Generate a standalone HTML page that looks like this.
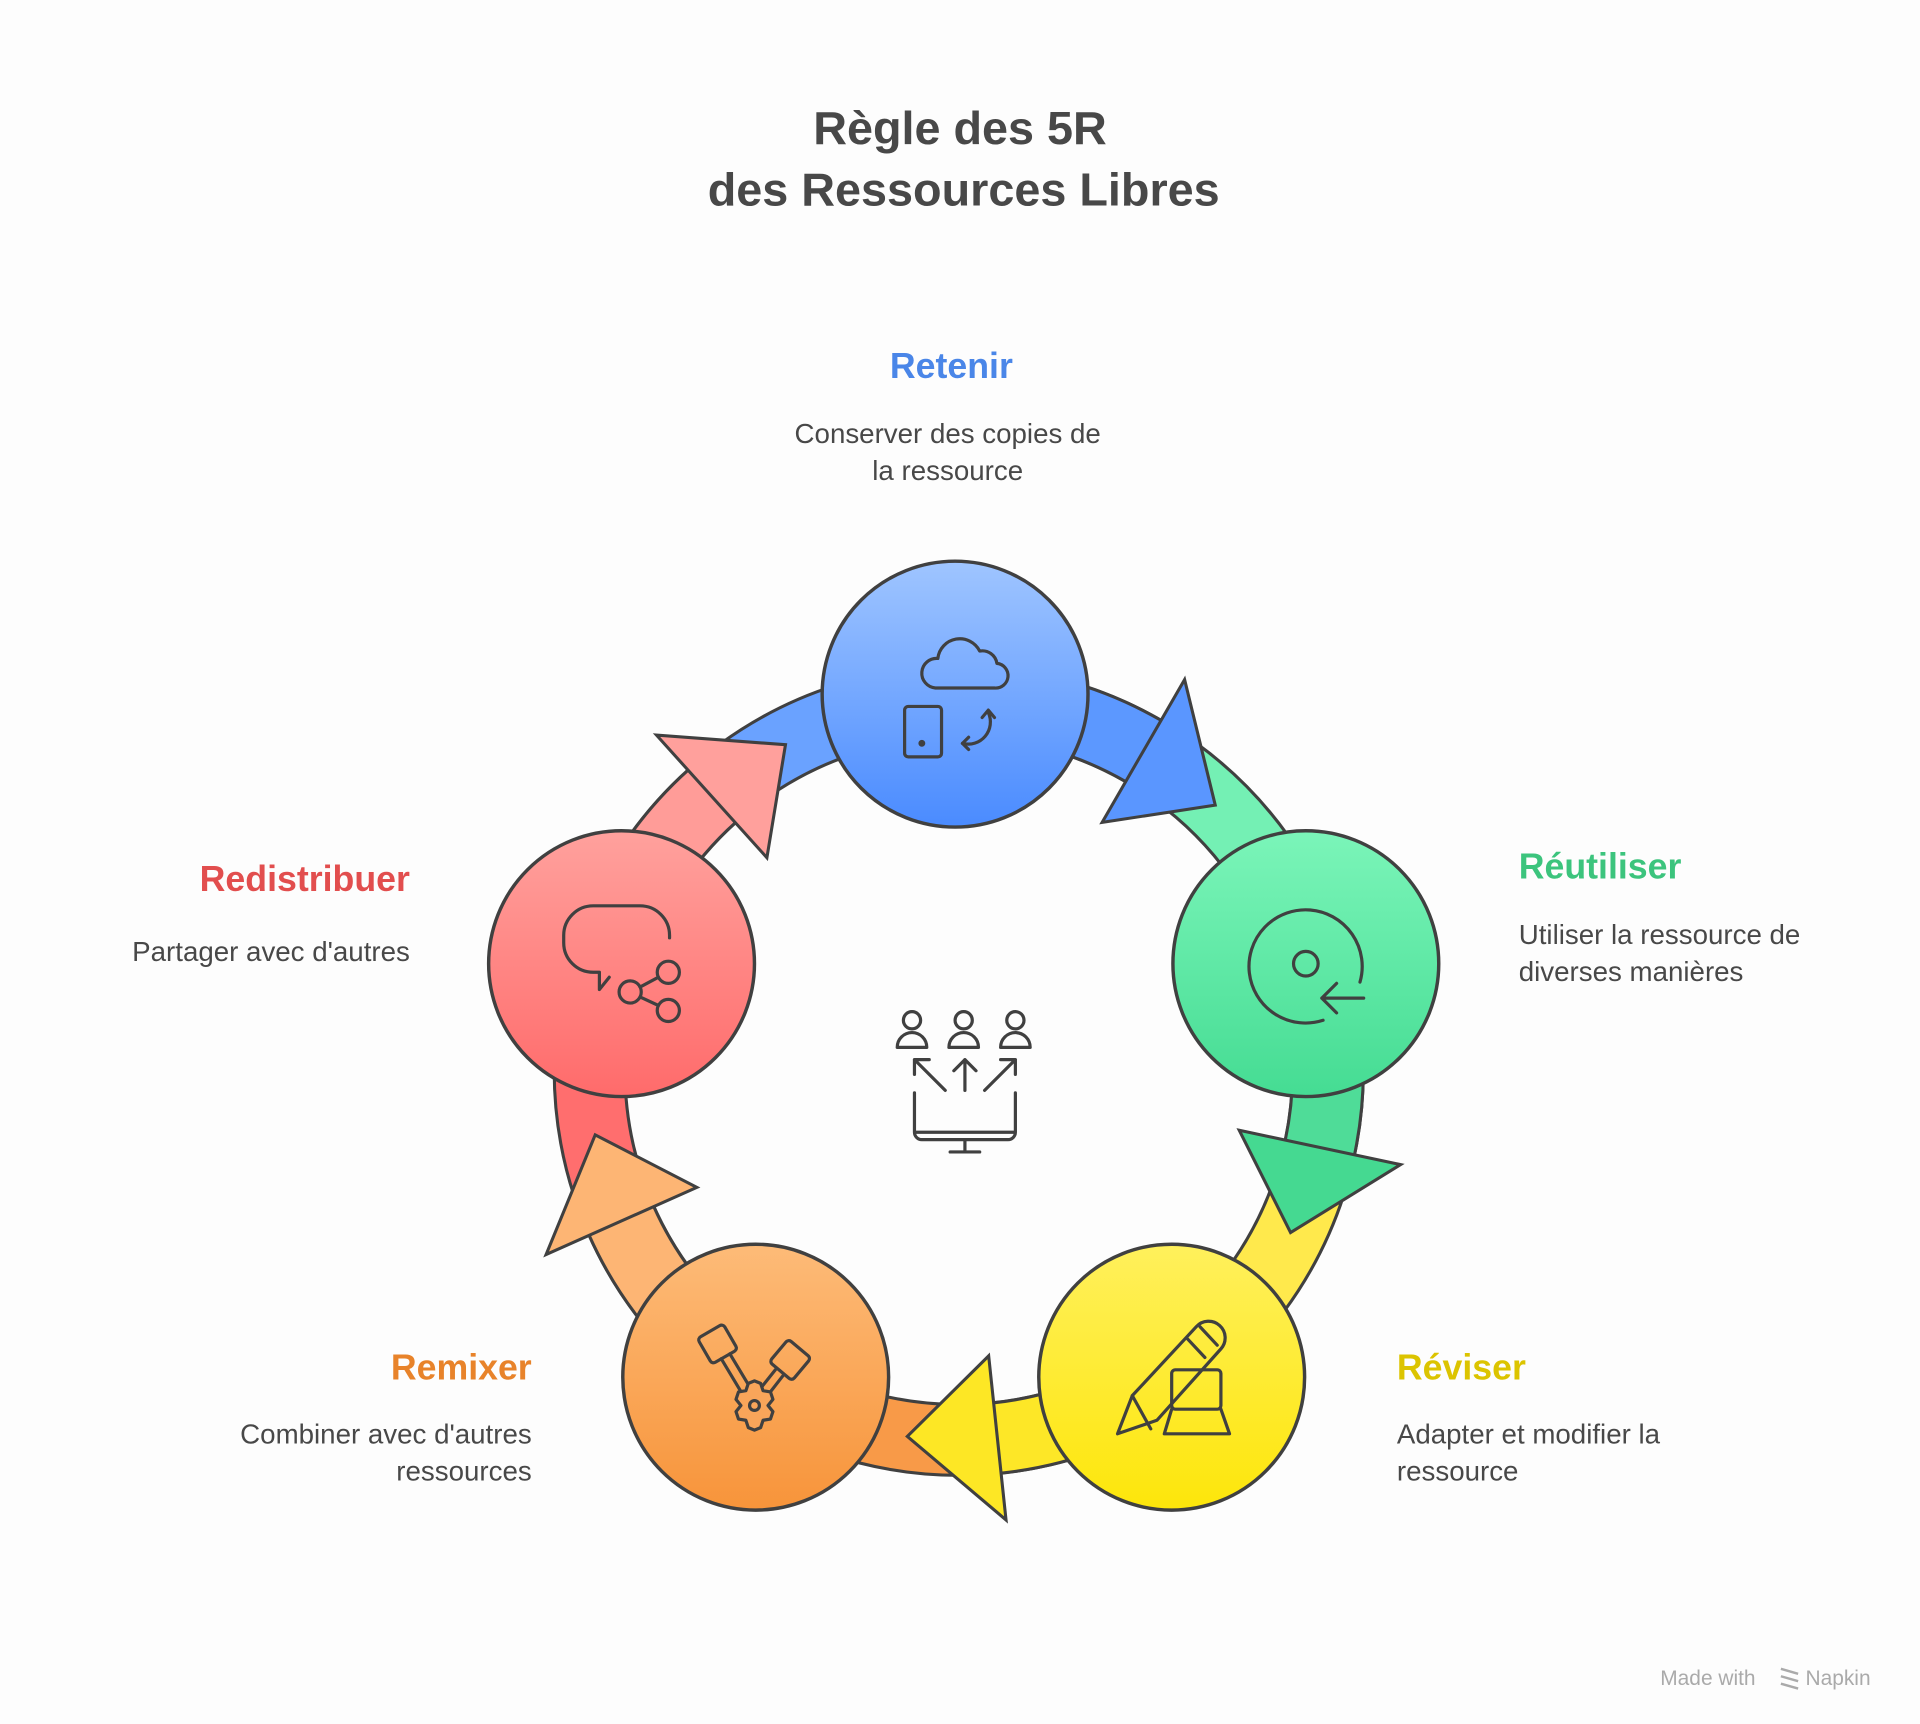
<!DOCTYPE html>
<html><head><meta charset="utf-8"><style>
html,body{margin:0;padding:0;background:#fdfdfd;}
svg{display:block;}
text{font-family:"Liberation Sans",sans-serif;}
</style></head><body>
<svg width="1920" height="1724" viewBox="0 0 1560 1400.8" xmlns="http://www.w3.org/2000/svg">
<defs>
<linearGradient id="gb" x1="0" y1="0" x2="0" y2="1"><stop offset="0" stop-color="#9fc5ff"/><stop offset="1" stop-color="#4a8bff"/></linearGradient>
<linearGradient id="gg" x1="0" y1="0" x2="0" y2="1"><stop offset="0" stop-color="#7bf5b9"/><stop offset="1" stop-color="#45dc93"/></linearGradient>
<linearGradient id="gy" x1="0" y1="0" x2="0" y2="1"><stop offset="0" stop-color="#fff05c"/><stop offset="1" stop-color="#fde60a"/></linearGradient>
<linearGradient id="go" x1="0" y1="0" x2="0" y2="1"><stop offset="0" stop-color="#fdbb78"/><stop offset="1" stop-color="#f7943a"/></linearGradient>
<linearGradient id="gr" x1="0" y1="0" x2="0" y2="1"><stop offset="0" stop-color="#ffa19d"/><stop offset="1" stop-color="#ff6b6b"/></linearGradient>
</defs>
<rect width="1560" height="1401" fill="#fdfdfd"/>

<text x="780" y="117" text-anchor="middle" font-size="38" font-weight="bold" fill="#484848">Règle des 5R</text>
<text x="783" y="167" text-anchor="middle" font-size="38" font-weight="bold" fill="#484848">des Ressources Libres</text>

<g transform="translate(-3,-3)">
<g fill="none" stroke-linecap="butt">
<path d="M782,573 A300,300 0 0 1 1067.3,780.3" stroke="#404040" stroke-width="60"/>
<path d="M782,573 A300,300 0 0 1 1067.3,780.3" stroke="#74f0b4" stroke-width="55"/>
<path d="M1067.3,780.3 A300,300 0 0 1 958.3,1115.7" stroke="#404040" stroke-width="60"/>
<path d="M1067.3,780.3 A300,300 0 0 1 958.3,1115.7" stroke="#ffe94c" stroke-width="55"/>
<path d="M958.3,1115.7 A300,300 0 0 1 605.7,1115.7" stroke="#404040" stroke-width="60"/>
<path d="M958.3,1115.7 A300,300 0 0 1 605.7,1115.7" stroke="#f89a48" stroke-width="55"/>
<path d="M605.7,1115.7 A300,300 0 0 1 496.7,780.3" stroke="#404040" stroke-width="60"/>
<path d="M605.7,1115.7 A300,300 0 0 1 496.7,780.3" stroke="#ff6e6e" stroke-width="55"/>
<path d="M496.7,780.3 A300,300 0 0 1 782,573" stroke="#404040" stroke-width="60"/>
<path d="M496.7,780.3 A300,300 0 0 1 782,573" stroke="#6aa2ff" stroke-width="55"/>
<path d="M782,573 A300,300 0 0 1 932,613.2" stroke="#404040" stroke-width="60"/>
<path d="M782,573 A300,300 0 0 1 932,613.2" stroke="#5c98ff" stroke-width="55"/>
<path d="M1067.3,780.3 A300,300 0 0 1 1075.4,935.4" stroke="#404040" stroke-width="60"/>
<path d="M1067.3,780.3 A300,300 0 0 1 1075.4,935.4" stroke="#4fdc98" stroke-width="55"/>
<path d="M958.3,1115.7 A300,300 0 0 1 813.4,1171.4" stroke="#404040" stroke-width="60"/>
<path d="M958.3,1115.7 A300,300 0 0 1 813.4,1171.4" stroke="#fde727" stroke-width="55"/>
<path d="M605.7,1115.7 A300,300 0 0 1 507.9,995" stroke="#404040" stroke-width="60"/>
<path d="M605.7,1115.7 A300,300 0 0 1 507.9,995" stroke="#fdb574" stroke-width="55"/>
<path d="M496.7,780.3 A300,300 0 0 1 581.3,650.1" stroke="#404040" stroke-width="60"/>
<path d="M496.7,780.3 A300,300 0 0 1 581.3,650.1" stroke="#ff9c98" stroke-width="55"/>
</g>
<g stroke="#404040" stroke-width="2.5" stroke-linejoin="miter">
<polygon points="898.5,671.2 965.5,555.2 990.4,657.2" fill="#5a96ff"/>
<polygon points="1009.9,921.4 1141,949.3 1051.6,1004.5" fill="#45d991"/>
<polygon points="806.3,1104.7 820.4,1238 740.2,1170.1" fill="#fde725"/>
<polygon points="569.2,967.8 446.7,1022.3 486.6,925.1" fill="#fdb574"/>
<polygon points="626.1,699.9 536.4,600.3 641.2,608.1" fill="#ffa09c"/>
</g>
</g>

<g stroke="#404040" stroke-width="2.8">
<circle cx="776" cy="564" r="108" fill="url(#gb)"/>
<circle cx="1061" cy="783" r="108" fill="url(#gg)"/>
<circle cx="952" cy="1119" r="108" fill="url(#gy)"/>
<circle cx="614" cy="1119" r="108" fill="url(#go)"/>
<circle cx="505" cy="783" r="108" fill="url(#gr)"/>
</g>

<g fill="none" stroke="#404040" stroke-width="2.6" stroke-linecap="round" stroke-linejoin="round">
<path d="M760,559 h48 a10,10 0 0 0 2,-20 a12,12 0 0 0 -14,-10 a18,18 0 0 0 -34,6 a10,10 0 0 0 -2,24 z"/>
<rect x="735" y="574" width="30" height="41" rx="3"/>
<circle cx="749" cy="604" r="1.5" fill="#404040"/>
<path d="M782,604 a18,18 0 0 0 21,-25"/><path d="M798,583 l5,-6 l5,6"/><path d="M787,599 l-5,5 l5,5"/>
<path d="M1075,829 A46,46 0 1 1 1105,798"/>
<circle cx="1061" cy="783" r="10"/>
<path d="M1108,811 h-34 M1086,799 l-12,12 l12,12"/>
<path d="M908,1165 l12,-31 l52,-56 a12,12 0 0 1 20,18 l-52,58 z"/>
<path d="M920,1134 l15,27"/><path d="M965,1088 l14,15 M975,1078 l14,15"/>
<rect x="952" y="1113" width="40" height="32" rx="3"/>
<path d="M952,1145 l-6,20 h53 l-7,-20"/>
<rect x="571" y="1080" width="24" height="24" rx="3" transform="rotate(-30 583 1092)"/>
<rect x="630" y="1093" width="24" height="24" rx="3" transform="rotate(40 642 1105)"/>
<path d="M586,1104 l18,30 M593,1100 l18,30"/><path d="M630,1113 l-16,20 M636,1118 l-14,18"/>
<path d="M608,1124 l5,-2 l5,2 l2,6 l6,1 l2,6 l-4,5 l4,5 l-2,6 l-6,1 l-2,6 l-5,2 l-5,-2 l-2,-6 l-6,-1 l-2,-6 l4,-5 l-4,-5 l2,-6 l6,-1 z" fill="#f9a55a"/>
<circle cx="613" cy="1142" r="4"/>
<path d="M482,790 a24,24 0 0 1 -24,-24 v-6 a24,24 0 0 1 24,-24 h38 a24,24 0 0 1 24,24 v2 M482,790 h5 v14 l8,-10"/>
<circle cx="543" cy="790" r="9"/><circle cx="512" cy="806" r="9"/><circle cx="543" cy="821" r="9"/>
<path d="M520,802 l15,-8 M520,810 l15,7"/>
<circle cx="741" cy="829" r="7"/><path d="M729,851 a12,12 0 0 1 24,0 z"/>
<circle cx="783" cy="829" r="7"/><path d="M771,851 a12,12 0 0 1 24,0 z"/>
<circle cx="825" cy="829" r="7"/><path d="M813,851 a12,12 0 0 1 24,0 z"/>
<path d="M768,886 l-25,-25 M743,873 v-12 h12"/>
<path d="M784,886 v-25 M775,870 l9,-9 l9,9"/>
<path d="M800,886 l25,-25 M813,861 h12 v12"/>
<path d="M743,888 v32 a6,6 0 0 0 6,6 h70 a6,6 0 0 0 6,-6 v-32 M743,920 h82 M784,926 v10 M772,936 h24"/>
</g>

<text x="773" y="307" text-anchor="middle" font-size="29" font-weight="bold" fill="#4a86e8">Retenir</text>
<text x="770" y="360" text-anchor="middle" font-size="22.5" fill="#484848">Conserver des copies de</text>
<text x="770" y="390" text-anchor="middle" font-size="22.5" fill="#484848">la ressource</text>

<text x="1234" y="714" font-size="29" font-weight="bold" fill="#3cc47d">Réutiliser</text>
<text x="1234" y="767" font-size="22.5" fill="#484848">Utiliser la ressource de</text>
<text x="1234" y="797" font-size="22.5" fill="#484848">diverses manières</text>

<text x="1135" y="1121" font-size="29" font-weight="bold" fill="#dcc400">Réviser</text>
<text x="1135" y="1173" font-size="22.5" fill="#484848">Adapter et modifier la</text>
<text x="1135" y="1203" font-size="22.5" fill="#484848">ressource</text>

<text x="432" y="1121" text-anchor="end" font-size="29" font-weight="bold" fill="#e8832a">Remixer</text>
<text x="432" y="1173" text-anchor="end" font-size="22.5" fill="#484848">Combiner avec d'autres</text>
<text x="432" y="1203" text-anchor="end" font-size="22.5" fill="#484848">ressources</text>

<text x="333" y="724" text-anchor="end" font-size="29" font-weight="bold" fill="#e24e4e">Redistribuer</text>
<text x="333" y="781" text-anchor="end" font-size="22.5" fill="#484848">Partager avec d'autres</text>

<text x="1349" y="1369" font-size="17" fill="#aaaaaa">Made with</text>
<path d="M1447,1356 l14,4 M1447,1362 l14,4 M1447,1368 l14,4" stroke="#aaaaaa" stroke-width="2"/>
<text x="1467" y="1369" font-size="17" fill="#aaaaaa">Napkin</text>
</svg>
</body></html>
